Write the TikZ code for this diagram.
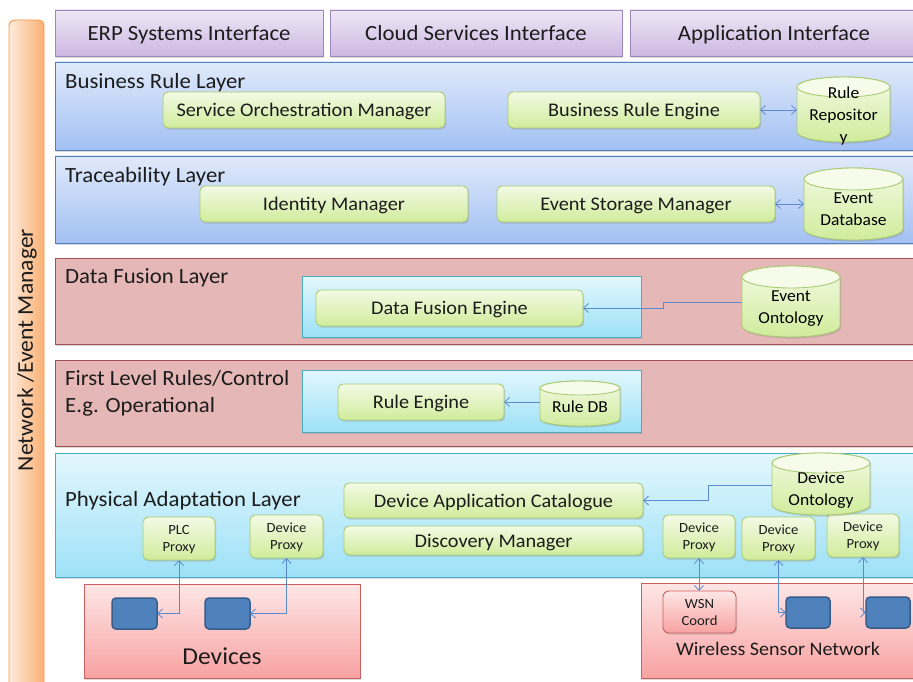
\documentclass[tikz,border=0pt]{standalone}
\usepackage{fontspec}
\setmainfont{Carlito}[FakeStretch=1.05]
\usetikzlibrary{arrows.meta,shadows}

\definecolor{ink}{HTML}{1C1C1C}
\definecolor{ifTop}{HTML}{EEE7F5}
\definecolor{ifBot}{HTML}{CDB8E2}
\definecolor{ifLine}{HTML}{9C88B8}
\definecolor{blTop}{HTML}{E0EAFB}
\definecolor{blBot}{HTML}{A3C1F3}
\definecolor{blLine}{HTML}{4F81BD}
\definecolor{rdFill}{HTML}{E5B8B7}
\definecolor{rdLine}{HTML}{A0504E}
\definecolor{cyTop}{HTML}{E3F7FD}
\definecolor{cyBot}{HTML}{9DE1F7}
\definecolor{cyLine}{HTML}{4BACC6}
\definecolor{gnTop}{HTML}{F3FAE4}
\definecolor{gnBot}{HTML}{D0EC9C}
\definecolor{gnCap}{HTML}{F6FBEA}
\definecolor{gnLine}{HTML}{A9CB72}
\definecolor{pkTop}{HTML}{FEE6E6}
\definecolor{pkBot}{HTML}{F8A2A2}
\definecolor{pkLine}{HTML}{C9605D}
\definecolor{devFill}{HTML}{4F81BD}
\definecolor{devLine}{HTML}{385D8A}
\definecolor{orL}{HTML}{FEEBDC}
\definecolor{orR}{HTML}{FAB073}
\definecolor{orLine}{HTML}{F79646}
\definecolor{link}{HTML}{5A8BD2}

\tikzset{
  boxbase/.style={inner sep=0pt, outer sep=0pt, anchor=north west, text=ink, align=center, text depth=0pt},
  softshadow/.style={drop shadow={shadow xshift=1.2pt, shadow yshift=-1.6pt, opacity=0.3}},
  iface/.style={boxbase, softshadow, draw=ifLine, line width=0.9pt, top color=ifTop, bottom color=ifBot, font=\fontsize{21.7}{26}\selectfont},
  bluelayer/.style={boxbase, softshadow, draw=blLine, line width=0.9pt, top color=blTop, bottom color=blBot},
  redlayer/.style={boxbase, softshadow, draw=rdLine, line width=0.9pt, fill=rdFill},
  cyanbox/.style={boxbase, softshadow, draw=cyLine, line width=0.9pt, top color=cyTop, bottom color=cyBot},
  greenbox/.style={boxbase, softshadow, draw=gnLine, line width=0.9pt, top color=gnTop, bottom color=gnBot, rounded corners=5pt, font=\fontsize{19.3}{23}\selectfont},
  proxy/.style={greenbox, font=\fontsize{14}{17}\selectfont},
  pinkbox/.style={boxbase, softshadow, draw=pkLine, line width=0.9pt, top color=pkTop, bottom color=pkBot},
  wsnbox/.style={pinkbox, rounded corners=6pt, font=\fontsize{14}{17}\selectfont},
  device/.style={boxbase, draw=devLine, line width=1.5pt, fill=devFill, rounded corners=4pt},
  bar/.style={boxbase, draw=orLine, line width=0.9pt, left color=orL, right color=orR, rounded corners=6pt},
  layertext/.style={inner sep=0pt, anchor=west, text=ink, font=\fontsize{21.7}{27}\selectfont, align=left},
  cyltext/.style={boxbase, text=black, font=\fontsize{16.7}{22}\selectfont},
  arr/.style={draw=link, line width=0.8pt, -{Straight Barb[length=5pt,width=9pt]}},
  darr/.style={draw=link, line width=0.8pt, {Straight Barb[length=5pt,width=9pt]}-{Straight Barb[length=5pt,width=9pt]}},
}

% box from its corners: name, style, x1, y1, x2, y2, text (y grows downwards)
\newcommand\cornerbox[7]{\node[#2, minimum width={#5-#3}, minimum height={#6-#4}] (#1) at (#3,-#4) {#7};}

% database cylinder: name, x1, y1, x2, y2, cap radius, text
\newcommand\dbcyl[7]{%
  \path[softshadow, draw=gnLine, line width=0.9pt, top color=gnTop, bottom color=gnBot]
    (#2,{-(#3+#6)}) -- (#2,{-(#5-#6)})
    arc[start angle=180, end angle=360, x radius={(#4-#2)/2}, y radius=#6]
    -- (#4,{-(#3+#6)})
    arc[start angle=0, end angle=180, x radius={(#4-#2)/2}, y radius=#6] -- cycle;
  \path[draw=gnLine, line width=0.9pt, fill=gnCap]
    ({(#2+#4)/2},{-(#3+#6)}) ellipse[x radius={(#4-#2)/2}, y radius=#6];
  \node[cyltext, minimum width={#4-#2}, minimum height={#5-#3-#6}] (#1) at (#2,{-(#3+#6)}) {#7};}

\begin{document}
\begin{tikzpicture}[x=1pt, y=1pt]
\useasboundingbox (0,0) rectangle (913,-682);

% side bar
\node[bar, minimum width=35, minimum height=680] (nembar) at (9,-20) {};
\node[rotate=90, inner sep=0pt, text=ink, font=\fontsize{22.5}{26}\selectfont] (nem) at (27,-350) {Network /Event Manager};

% interfaces
\cornerbox{erp}{iface}{55}{10}{323}{56}{ERP Systems Interface}
\cornerbox{cloud}{iface}{330}{10}{622}{56}{Cloud Services Interface}
\cornerbox{app}{iface}{630}{10}{918}{56}{Application Interface}

% layers
\cornerbox{brl}{bluelayer}{55}{62}{918}{150}{}
\cornerbox{trl}{bluelayer}{55}{156}{918}{243}{}
\cornerbox{dfl}{redlayer}{55}{258}{918}{344}{}
\cornerbox{flr}{redlayer}{55}{360}{918}{446}{}
\cornerbox{pal}{cyanbox}{55}{453}{918}{577}{}

\node[layertext] (brlT) at (65,-82.5) {Business Rule Layer};
\node[layertext] (trlT) at (65,-176.5) {Traceability Layer};
\node[layertext] (dflT) at (65,-277.5) {Data Fusion Layer};
\node[layertext] (flrT) at (65,-393) {First Level Rules/Control\\E.g. Operational};
\node[layertext] (palT) at (65,-500.5) {Physical Adaptation Layer};

% inner panels
\cornerbox{dfi}{cyanbox}{302}{276}{641}{337}{}
\cornerbox{fri}{cyanbox}{302}{370}{641}{432}{}

% components
\cornerbox{som}{greenbox}{163}{92}{445}{128}{Service Orchestration Manager}
\cornerbox{bre}{greenbox}{508}{92}{760}{128}{Business Rule Engine}
\cornerbox{idm}{greenbox}{200}{186}{468}{222}{Identity Manager}
\cornerbox{esm}{greenbox}{497}{186}{775}{222}{Event Storage Manager}
\cornerbox{dfe}{greenbox}{316}{290}{583}{326}{Data Fusion Engine}
\cornerbox{re}{greenbox}{338}{384}{504}{420}{Rule Engine}
\cornerbox{dac}{greenbox}{344}{483}{643}{518}{Device Application Catalogue}
\cornerbox{dm}{greenbox}{344}{526}{643}{555}{Discovery Manager}

\cornerbox{plc}{proxy}{143}{517}{215}{560}{PLC\\Proxy}
\cornerbox{dp}{proxy}{250}{515}{323}{558}{Device\\Proxy}
\cornerbox{wp1}{proxy}{663}{515}{735}{558}{Device\\Proxy}
\cornerbox{wp2}{proxy}{742}{517}{815}{560}{Device\\Proxy}
\cornerbox{wp3}{proxy}{827}{514}{899}{557}{Device\\Proxy}

% data stores
\dbcyl{rr}{797}{77}{890}{142}{10}{Rule\\Repositor\\y}
\dbcyl{edb}{804}{168}{903}{240}{11}{Event\\Database}
\dbcyl{eo}{742}{266}{840}{337}{11}{Event\\Ontology}
\dbcyl{rdb}{540}{381}{620}{426}{7}{Rule DB}
\dbcyl{do}{772}{453}{870}{515}{10}{Device\\Ontology}

% field level
\cornerbox{devs}{pinkbox}{84}{584}{360}{678}{}
\node[inner sep=0pt, text=ink, font=\fontsize{24.3}{28}\selectfont] (devsT) at (222,-656) {Devices};
\cornerbox{d1}{device}{112}{598}{157}{629}{}
\cornerbox{d2}{device}{205}{598}{250}{629}{}

\cornerbox{net}{pinkbox}{641}{583}{918}{678}{}
\node[inner sep=0pt, text=ink, font=\fontsize{19.1}{23}\selectfont] (netT) at (778,-649) {Wireless Sensor Network};
\cornerbox{wsn}{wsnbox}{663}{591}{736}{633}{WSN\\Coord}
\cornerbox{s1}{device}{786}{597}{830}{628}{}
\cornerbox{s2}{device}{866}{597}{910}{628}{}

% connectors
\draw[darr] (bre.east) -- (bre.east -| rr.west);
\draw[darr] (esm.east) -- (esm.east -| edb.west);
\draw[arr] ([yshift=5pt]eo.west) -- ++(-79,0) |- (dfe.east);
\draw[arr] (rdb.west |- re.east) -- (re.east);
\draw[arr] ([yshift=4pt]do.west) -- ++(-64,0) |- (dac.east);
\draw[darr] (plc.south) |- (d1.east);
\draw[darr] (dp.south) |- (d2.east);
\draw[darr] (wp1.south) -- (wp1.south |- wsn.north);
\draw[darr] (wp2.south) |- (s1.west);
\draw[darr] (wp3.south) |- (s2.west);
\end{tikzpicture}
\end{document}
